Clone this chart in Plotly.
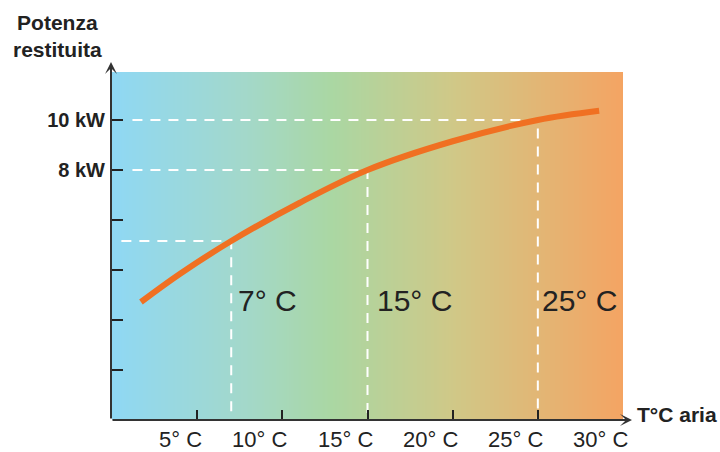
import numpy as np
import plotly.graph_objects as go

# Heat-pump output vs outdoor air temperature
temp_c = [1.7, 4.0, 7.0, 11.0, 15.0, 20.0, 25.0, 28.6]
power_kw = [2.72, 3.85, 5.16, 6.68, 8.0, 9.15, 10.0, 10.37]

# Reference operating points marked with dashed guides
ref_temp = [7, 15, 25]
ref_power = [5.16, 8.0, 10.0]
ref_text = ["7° C", "15° C", "25° C"]
ref_text_shift = [5, 7, 2]
guide_start = [0.55, 1.2, 1.2]

# Axis ticks
x_ticks = [5, 10, 15, 20, 25, 30]
x_ticktext = ["5° C", "10° C", "15° C", "20° C", "25° C", "30° C"]
y_ticks = [0, 2, 4, 6, 8, 10]
y_ticktext = ["", "", "", "", "<b>8 kW</b>", "<b>10 kW</b>"]

X_MIN, X_MAX = 0, 30
Y_MIN, Y_MAX = -2, 11.92

FONT = "Liberation Sans, Arial, Helvetica, sans-serif"
INK = "#222222"

# Background gradient cold -> warm
grad_stops = [
    (0.0, "#8fd8f4"),
    (0.26, "#a3d8ca"),
    (0.43, "#aad7a3"),
    (0.67, "#d0c887"),
    (0.99, "#f3a564"),
    (1.0, "#f4a462"),
]
gx_edges = np.linspace(X_MIN, X_MAX, 301)
gx_mid = (gx_edges[:-1] + gx_edges[1:]) / 2

fig = go.Figure()
fig.add_trace(go.Heatmap(
    x=gx_edges, y=[Y_MIN, Y_MAX], z=[gx_mid],
    colorscale=[[s, c] for s, c in grad_stops],
    zmin=X_MIN, zmax=X_MAX, showscale=False, hoverinfo="skip",
))

# Dashed guide lines
for t, p, x0 in zip(ref_temp, ref_power, guide_start):
    fig.add_trace(go.Scatter(
        x=[x0, t, t], y=[p, p, Y_MIN], mode="lines",
        line=dict(color="white", width=2, dash="10px,8px"),
        hoverinfo="skip", showlegend=False,
    ))

# Output curve
fig.add_trace(go.Scatter(
    x=temp_c, y=power_kw, mode="lines",
    line=dict(color="#f07022", width=6, shape="spline", smoothing=1.0),
    showlegend=False,
))

annotations = []
for t, txt, sh in zip(ref_temp, ref_text, ref_text_shift):
    annotations.append(dict(
        x=t, y=2.78, xref="x", yref="y", text=txt, showarrow=False,
        xanchor="left", yanchor="middle", xshift=sh,
        font=dict(family=FONT, size=30, color=INK),
    ))

# X tick labels, right-aligned just past each tick
for t, txt in zip(x_ticks, x_ticktext):
    annotations.append(dict(
        x=t, y=0, xref="x", yref="paper", text=txt, showarrow=False,
        xanchor="right", yanchor="middle", xshift=6, yshift=-19,
        borderpad=0,
        font=dict(family=FONT, size=22, color=INK),
    ))

# Axis lines with arrowheads
annotations.append(dict(
    x=(632 - 112) / 511, y=0, xref="paper", yref="paper",
    ax=-521, ay=0, axref="pixel", ayref="pixel", text="",
    showarrow=True, arrowhead=3, arrowsize=1, arrowwidth=2, arrowcolor="#333333",
))
annotations.append(dict(
    x=-1 / 511, y=(420 - 62) / 348, xref="paper", yref="paper",
    ax=0, ay=358, axref="pixel", ayref="pixel", text="",
    showarrow=True, arrowhead=3, arrowsize=1, arrowwidth=2, arrowcolor="#333333",
))

# Axis titles
annotations.append(dict(
    x=(635 - 112) / 511, y=(420 - 414) / 348, xref="paper", yref="paper",
    text="<b>T°C aria</b>", showarrow=False, xanchor="left", yanchor="middle",
    font=dict(family=FONT, size=21, color=INK),
))
annotations.append(dict(
    x=(57 - 112) / 511, y=(420 - 36) / 348, xref="paper", yref="paper",
    text="<b>Potenza<br>restituita</b>", showarrow=False, xanchor="center", yanchor="middle",
    font=dict(family=FONT, size=21, color=INK),
))

fig.update_layout(
    template="none",
    width=720, height=452,
    margin=dict(l=112, r=97, t=72, b=32),
    paper_bgcolor="white", plot_bgcolor="white",
    showlegend=False,
    annotations=annotations,
    xaxis=dict(
        range=[X_MIN, X_MAX], showgrid=False, zeroline=False, showline=False,
        automargin=False, showticklabels=False,
        tickmode="array", tickvals=x_ticks,
        ticks="inside", ticklen=10, tickwidth=2, tickcolor=INK,
    ),
    yaxis=dict(
        range=[Y_MIN, Y_MAX], showgrid=False, zeroline=False, showline=False,
        automargin=False,
        tickmode="array", tickvals=y_ticks, ticktext=y_ticktext,
        ticks="inside", ticklen=11, tickwidth=2, tickcolor=INK,
        ticklabelstandoff=6,
        tickfont=dict(family=FONT, size=20, color=INK),
    ),
)

fig.write_html("out.html")
